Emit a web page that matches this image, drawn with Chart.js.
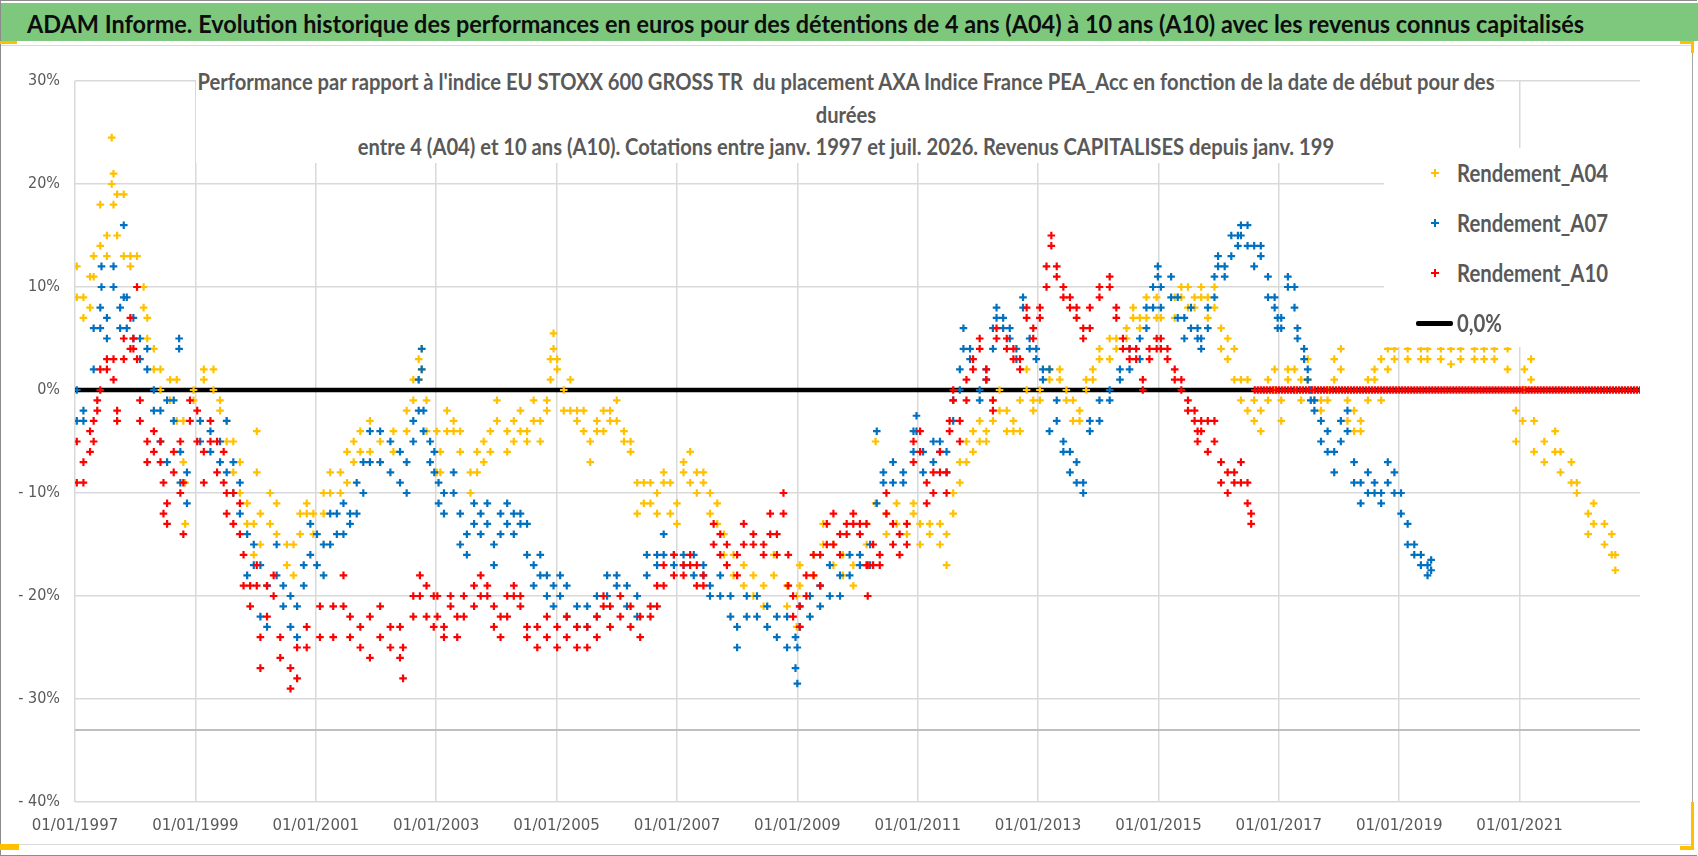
<!DOCTYPE html>
<html lang="fr">
<head>
<meta charset="utf-8">
<title>ADAM Informe - AXA Indice France PEA_Acc</title>
<script src="https://cdn.jsdelivr.net/npm/chart.js@4.4.1/dist/chart.umd.min.js"></script>
<style>
  html, body { margin: 0; padding: 0; background: #fff; }
  body { width: 1698px; height: 856px; position: relative; overflow: hidden; font-family: Lato, 'DejaVu Sans', sans-serif; }
  #frame { position: absolute; left: 0; top: 0; width: 1696px; height: 854px; border: 1px solid #8c8c8c; border-right: none; }
  #banner { position: absolute; left: 1px; top: 3px; width: 1697px; height: 38px; background: #7ec87e; overflow: hidden; }
  #banner span { position: absolute; left: 26px; top: 0; line-height: 40px; font-size: 25px; font-weight: bold;
                 color: #0d0d0d; white-space: nowrap; transform-origin: left center; }
  #chartBox { position: absolute; left: 1px; top: 45px; width: 1691px; height: 798px;
              border-top: 1px solid #d9d9d9; border-bottom: 1px solid #d9d9d9; border-right: 1px solid #a6a6a6; }
  #perfChart { position: absolute; left: 0; top: 46px; }
  #subtitle { position: absolute; left: 196px; top: 65px; width: 1300px; height: 98px; background: #fff; }
  #subtitle div { position: relative; height: 32.5px; }
  #subtitle span { position: absolute; left: 50%; top: 0; line-height: 32.5px; white-space: pre;
                   color: #595959; font-weight: bold; font-size: 23px; transform-origin: center center; }
  #legend { position: absolute; left: 1384px; top: 148px; width: 306px; height: 199px; background: #fff; }
  #legend .item { position: absolute; left: 0; width: 306px; height: 50px; }
  #legend .lbl { position: absolute; left: 73px; top: 0; line-height: 50px; font-size: 24.5px; font-weight: bold;
                 color: #595959; white-space: nowrap; transform-origin: left center; }
  #legend .cross { position: absolute; left: 47px; top: 21px; width: 8px; height: 8px;
                   background: linear-gradient(currentColor, currentColor) center / 8px 2px no-repeat,
                               linear-gradient(currentColor, currentColor) center / 2px 8px no-repeat; }
  #legend .bar { position: absolute; left: 32px; top: 23px; width: 37px; height: 5px; border-radius: 2px; }
  .mark { position: absolute; background: #ffc000; }
</style>
</head>
<body>
<div id="frame"></div>
<div id="banner"><span id="mainTitle">ADAM Informe. Evolution historique des performances en euros pour des détentions de 4 ans (A04) à 10 ans (A10) avec les revenus connus capitalisés</span></div>
<div id="chartBox"></div>
<canvas id="perfChart" width="1698" height="804"></canvas>
<div id="subtitle">
  <div><span>Performance par rapport à l'indice EU STOXX 600 GROSS TR  du placement AXA Indice France PEA_Acc en fonction de la date de début pour des</span></div>
  <div><span>durées</span></div>
  <div><span>entre 4 (A04) et 10 ans (A10). Cotations entre janv. 1997 et juil. 2026. Revenus CAPITALISES depuis janv. 199</span></div>
</div>
<div id="legend"></div>
<div class="mark" style="left:0;top:41px;width:17px;height:3px"></div>
<div class="mark" style="left:1680px;top:41px;width:14px;height:3px"></div>
<div class="mark" style="left:1691px;top:41px;width:3px;height:12px"></div>
<div class="mark" style="left:1691px;top:802px;width:3px;height:48px"></div>
<div class="mark" style="left:1680px;top:846px;width:14px;height:4px"></div>
<div class="mark" style="left:0;top:844px;width:19px;height:6px"></div>

<script>
// date de début (année décimale), rendement haut, rendement bas (en %)
const rendementA04 = [
  [1997.03,12,9],[1997.14,9,7],[1997.25,11,8],[1997.31,13,11],[1997.42,18,14],[1997.53,15,13],[1997.61,24.5,20],
  [1997.64,21,18],[1997.70,19,15],[1997.81,19,13],[1997.92,13,12],[1998.03,13,10],[1998.14,10,8],[1998.20,7,5],
  [1998.31,4,2],[1998.42,2,0],[1998.58,1,-1],[1998.69,1,-3],[1998.80,-3,-7],[1998.83,-9,-13],[1998.97,0,-1],
  [1999.14,2,1],[1999.30,2,0],[1999.41,-1,-2],[1999.52,-3,-5],[1999.63,-5,-8],[1999.74,-7,-10],[1999.86,-11,-13],
  [1999.97,-13,-16],[2000.02,-4,-8],[2000.08,-12,-15],[2000.24,-10,-13],[2000.35,-11,-14],[2000.52,-15,-17],
  [2000.63,-15,-18],[2000.74,-12,-14],[2000.85,-11,-12],[2000.96,-12,-14],[2001.13,-10,-12],[2001.24,-8,-10],
  [2001.41,-8,-10],[2001.52,-6,-9],[2001.63,-5,-7],[2001.74,-4,-6],[2001.90,-3,-6],[2002.07,-5,-7],[2002.29,-4,-6],
  [2002.51,-2,-4],[2002.62,1,-1],[2002.71,3,1],[2002.76,4,2],[2002.84,-1,-4],[2003.01,-4,-8],[2003.07,-6,-8],
  [2003.18,-2,-4],[2003.29,-3,-4],[2003.40,-4,-6],[2003.57,-8,-10],[2003.68,-6,-8],[2003.79,-5,-7],[2003.90,-4,-6],
  [2004.01,-1,-3],[2004.18,-4,-6],[2004.29,-3,-5],[2004.40,-2,-4],[2004.51,-4,-5],[2004.62,-1,-3],[2004.73,-3,-5],
  [2004.84,-1,-2],[2004.90,3,1],[2004.95,5.5,4],[2005.01,3,2],[2005.12,0,-2],[2005.23,1,-2],[2005.34,-2,-3],
  [2005.45,-2,-4],[2005.56,-5,-7],[2005.67,-3,-4],[2005.78,-2,-4],[2005.89,-2,-3],[2006.00,-1,-3],[2006.12,-4,-5],
  [2006.23,-5,-6],[2006.34,-9,-12],[2006.45,-9,-11],[2006.56,-9,-11],[2006.67,-10,-12],[2006.78,-8,-9],
  [2006.89,-9,-12],[2007.00,-11,-13],[2007.11,-7,-8],[2007.22,-6,-9],[2007.33,-8,-10],[2007.44,-8,-9],
  [2007.55,-10,-12],[2007.67,-11,-13],[2007.78,-14,-16],[2007.94,-16,-18],[2008.11,-17,-19],[2008.27,-18,-20],
  [2008.44,-19,-21],[2008.61,-16,-18],[2008.83,-19,-21],[2008.99,-20,-23],[2009.04,-17,-19],[2009.27,-16,-18],
  [2009.43,-13,-15],[2009.60,-15,-17],[2009.76,-16,-18],[2009.93,-17,-19],[2010.15,-13,-15],[2010.30,-5,-11],
  [2010.48,-12,-14],[2010.65,-11,-13],[2010.82,-13,-14],[2010.93,-11,-12],[2011.04,-13,-15],[2011.20,-13,-14],
  [2011.37,-13,-15],[2011.48,-14,-17],[2011.59,-10,-12],[2011.70,-7,-9],[2011.81,-5,-7],[2011.92,-4,-6],
  [2012.03,-3,-5],[2012.14,-4,-5],[2012.25,-1,-3],[2012.36,0,-2],[2012.48,-2,-4],[2012.59,-3,-4],[2012.70,-1,-4],
  [2012.81,2,0],[2012.92,-1,-2],[2013.03,0,-1],[2013.19,2,1],[2013.36,2,1],[2013.47,0,-1],[2013.58,-1,-3],
  [2013.69,-2,-3],[2013.80,1,0],[2013.91,2,1],[2014.02,4,3],[2014.19,5,3],[2014.30,5,4],[2014.47,6,5],
  [2014.58,8,7],[2014.69,7,6],[2014.80,9,7],[2014.97,9,7],[2015.04,7,4],[2015.27,9,7],[2015.38,10,9],
  [2015.49,10,8],[2015.60,9,8],[2015.71,10,9],[2015.82,9,7],[2015.93,10,8],[2016.04,6,4],[2016.15,5,3],
  [2016.26,4,1],[2016.37,1,-1],[2016.48,1,-2],[2016.59,-1,-3],[2016.70,-2,-4],[2016.82,1,-1],[2016.93,2,0],
  [2017.04,-1,-3],[2017.15,2,1],[2017.26,2,0],[2017.37,1,-1],[2017.48,3,1],[2017.59,0,-1],[2017.70,-1,-2],
  [2017.81,0,-1],[2017.92,3,1],[2018.03,4,2],[2018.14,-1,-3],[2018.25,-2,-4],[2018.36,-3,-4],[2018.48,1,-1],
  [2018.59,2,1],[2018.70,3,-1],[2018.81,4,2],[2018.92,4,3],[2019.14,4,3],[2019.36,4,3],[2019.47,4,3],
  [2019.69,4,3],[2019.86,4,2.5],[2020.02,4,3],[2020.25,4,3],[2020.41,4,3],[2020.58,4,3],[2020.80,4,2],
  [2020.94,-2,-5],[2021.05,0,-3],[2021.08,2,0],[2021.19,3,1],[2021.24,-3,-6],[2021.41,-5,-7],[2021.59,-4,-6],
  [2021.68,-6,-8],[2021.86,-7,-9],[2021.95,-9,-10],[2022.14,-12,-14],[2022.23,-11,-13],[2022.41,-13,-15],
  [2022.53,-14,-16],[2022.59,-16,-17.5]
];

const rendementA07 = [
  [1997.03,0,-3],[1997.14,-2,-3],[1997.31,6,2],[1997.42,8,6],[1997.44,12,10],[1997.53,7,5],[1997.64,12,10],
  [1997.75,8,6],[1997.81,16,9],[1997.86,9,6],[1997.97,7,5],[1998.08,5,3],[1998.20,4,2],[1998.31,0,-2],
  [1998.42,-2,-5],[1998.53,-1,-7],[1998.64,-1,-3],[1998.73,5,4],[1998.75,-6,-9],[1998.86,-8,-11],[1999.08,-3,-5],
  [1999.25,-4,-6],[1999.41,-5,-7],[1999.52,-3,-8],[1999.63,-7,-10],[1999.74,-9,-12],[1999.86,-14,-18],
  [1999.97,-15,-17],[2000.08,-17,-22],[2000.19,-19,-23],[2000.35,-15,-18],[2000.46,-19,-21],[2000.58,-20,-23],
  [2000.69,-21,-24],[2000.80,-17,-19],[2000.91,-13,-16],[2001.02,-14,-17],[2001.13,-15,-18],[2001.24,-12,-15],
  [2001.35,-12,-14],[2001.46,-11,-14],[2001.57,-12,-13],[2001.68,-9,-12],[2001.79,-7,-10],[2001.90,-4,-7],
  [2002.07,-4,-7],[2002.24,-5,-8],[2002.40,-6,-9],[2002.51,-7,-10],[2002.62,-3,-5],[2002.71,1,-2],[2002.76,4,2],
  [2002.79,-2,-4],[2002.90,-5,-7],[2002.97,-6,-8],[2003.04,-9,-11],[2003.13,-10,-12],[2003.29,-8,-10],
  [2003.40,-12,-15],[2003.51,-14,-16],[2003.63,-11,-13],[2003.74,-12,-14],[2003.85,-11,-13],[2003.96,-15,-17],
  [2004.07,-12,-14],[2004.18,-11,-13],[2004.29,-12,-14],[2004.40,-12,-13],[2004.51,-13,-16],[2004.62,-17,-19],
  [2004.73,-16,-18],[2004.84,-18,-20],[2004.95,-19,-21],[2005.06,-18,-20],[2005.17,-19,-22],[2005.34,-21,-23],
  [2005.51,-21,-23],[2005.67,-20,-22],[2005.84,-18,-20],[2006.00,-18,-19],[2006.17,-19,-21],[2006.34,-20,-22],
  [2006.50,-16,-18],[2006.67,-16,-17],[2006.78,-14,-16],[2006.95,-16,-17],[2007.11,-16,-17],[2007.28,-16,-18],
  [2007.44,-17,-18],[2007.55,-19,-20],[2007.72,-18,-20],[2007.89,-20,-22],[2008.00,-23,-25],[2008.16,-20,-22],
  [2008.33,-20,-22],[2008.50,-21,-23],[2008.66,-22,-24],[2008.83,-22,-25],[2008.97,-24,-27],[2009.00,-25,-28.5],
  [2009.04,-21,-23],[2009.21,-20,-22],[2009.38,-19,-21],[2009.54,-17,-20],[2009.71,-18,-20],[2009.87,-16,-18],
  [2010.04,-16,-17],[2010.21,-15,-17],[2010.32,-4,-11],[2010.43,-8,-9],[2010.59,-7,-9],[2010.76,-8,-9],
  [2010.93,-4,-6],[2010.98,-2.5,-4],[2011.09,-6,-8],[2011.26,-5,-7],[2011.37,-5,-6],[2011.48,-6,-8],
  [2011.59,-1,-3],[2011.70,2,0],[2011.76,6,4],[2011.87,4,3],[2012.03,0,-1],[2012.14,2,1],[2012.25,6,4],
  [2012.31,8,7],[2012.42,7,6],[2012.53,6,5],[2012.64,4,3],[2012.75,9,8],[2012.86,5,4],[2012.97,4,3],
  [2013.08,2,1],[2013.19,2,-4],[2013.31,-1,-3],[2013.42,-5,-6],[2013.53,-6,-8],[2013.64,-7,-9],[2013.75,-9,-10],
  [2013.86,-3,-4],[2014.02,-1,-3],[2014.19,0,-1],[2014.36,2,1],[2014.52,4,2],[2014.69,5,3],[2014.80,8,6],
  [2014.91,10,8],[2014.99,12,11],[2015.04,10,8],[2015.21,11,9],[2015.32,9,7],[2015.43,7,5],[2015.54,8,6],
  [2015.65,6,5],[2015.71,5,4],[2015.82,8,6],[2015.93,11,9],[2015.99,13,12],[2016.10,12,11],[2016.21,15,13],
  [2016.32,15,14],[2016.37,16,15],[2016.48,16,14],[2016.59,14,12],[2016.70,14,13],[2016.82,11,9],[2016.93,9,8],
  [2016.98,7,6],[2017.04,7,6],[2017.15,11,10],[2017.26,10,8],[2017.31,6,5],[2017.42,4,3],[2017.48,2,1],
  [2017.53,0,-1],[2017.59,-1,-2],[2017.70,-3,-5],[2017.81,-4,-6],[2017.92,-6,-8],[2018.03,-3,-5],[2018.14,-2,-4],
  [2018.25,-7,-9],[2018.36,-9,-11],[2018.48,-8,-10],[2018.59,-9,-10],[2018.70,-10,-11],[2018.81,-7,-9],
  [2018.92,-8,-10],[2019.03,-10,-12],[2019.14,-13,-15],[2019.25,-15,-16],[2019.36,-16,-17],[2019.47,-17,-18],
  [2019.53,-16.5,-17.5]
];

const rendementA10 = [
  [1997.03,-5,-9],[1997.14,-7,-9],[1997.25,-4,-6],[1997.31,-3,-5],[1997.37,-1,-2],[1997.42,2,0],[1997.53,3,2],
  [1997.64,3,1],[1997.70,-2,-3],[1997.81,5,3],[1997.92,7,4],[1997.97,5,4],[1998.03,10,3],[1998.08,-1,-3],
  [1998.20,-5,-7],[1998.31,-4,-6],[1998.42,-5,-7],[1998.47,-9,-12],[1998.53,-11,-13],[1998.64,-6,-8],
  [1998.75,-5,-10],[1998.80,-9,-14],[1998.91,-1,-3],[1999.03,-2,-5],[1999.14,-6,-9],[1999.25,-3,-5],
  [1999.36,-5,-8],[1999.47,-6,-9],[1999.52,-10,-12],[1999.63,-10,-13],[1999.74,-11,-14],[1999.80,-16,-19],
  [1999.91,-19,-21],[2000.02,-17,-19],[2000.08,-24,-27],[2000.19,-19,-22],[2000.30,-18,-20],[2000.41,-24,-26],
  [2000.58,-27,-29],[2000.69,-25,-28],[2000.85,-23,-25],[2001.07,-21,-24],[2001.29,-21,-24],[2001.46,-18,-21],
  [2001.57,-22,-24],[2001.74,-23,-25],[2001.90,-22,-26],[2002.07,-21,-24],[2002.24,-23,-25],[2002.40,-23,-26],
  [2002.45,-25,-28],[2002.62,-20,-22],[2002.73,-18,-20],[2002.84,-19,-22],[2002.96,-20,-23],[2003.02,-20,-22],
  [2003.13,-23,-24],[2003.24,-20,-21],[2003.35,-22,-24],[2003.46,-20,-22],[2003.63,-19,-21],[2003.74,-18,-20],
  [2003.85,-19,-20],[2003.96,-21,-23],[2004.07,-22,-24],[2004.18,-20,-22],[2004.29,-19,-20],[2004.40,-20,-21],
  [2004.51,-23,-24],[2004.68,-23,-25],[2004.84,-22,-24],[2005.01,-23,-25],[2005.17,-22,-24],[2005.34,-23,-25],
  [2005.51,-23,-25],[2005.67,-22,-24],[2005.78,-20,-21],[2005.89,-21,-23],[2006.06,-20,-22],[2006.23,-21,-23],
  [2006.39,-22,-24],[2006.56,-21,-22],[2006.67,-19,-21],[2006.78,-17,-19],[2006.95,-16,-18],[2007.11,-17,-18],
  [2007.22,-16,-17],[2007.33,-17,-19],[2007.44,-18,-19],[2007.61,-13,-15],[2007.72,-14,-16],[2007.83,-15,-17],
  [2008.00,-16,-18],[2008.11,-13,-15],[2008.27,-14,-15],[2008.44,-15,-16],[2008.55,-12,-14],[2008.66,-14,-16],
  [2008.77,-10,-12],[2008.85,-16,-19],[2008.93,-20,-22],[2009.04,-21,-23],[2009.15,-18,-20],[2009.27,-16,-18],
  [2009.38,-16,-19],[2009.49,-13,-15],[2009.60,-12,-15],[2009.71,-14,-16],[2009.82,-13,-14],[2009.93,-12,-13],
  [2010.04,-13,-14],[2010.15,-13,-17],[2010.17,-17,-20],[2010.26,-15,-17],[2010.37,-16,-17],[2010.48,-10,-12],
  [2010.59,-13,-15],[2010.70,-14,-16],[2010.82,-13,-15],[2010.93,-5,-7],[2011.04,-4,-6],[2011.15,-9,-11],
  [2011.26,-8,-10],[2011.37,-6,-8],[2011.48,-8,-10],[2011.53,-3,-4],[2011.59,0,-1],[2011.70,-3,-5],
  [2011.81,1,-1],[2011.92,3,2],[2012.03,5,4],[2012.14,2,1],[2012.25,-1,-2],[2012.31,6,5],[2012.48,5,4],
  [2012.59,4,3],[2012.70,3,2],[2012.81,8,7],[2012.92,6,5],[2013.03,8,7],[2013.14,12,10],[2013.22,15,14],
  [2013.31,12,11],[2013.42,10,9],[2013.53,9,8],[2013.64,8,7],[2013.75,6,5],[2013.86,8,6],[2014.02,10,9],
  [2014.19,11,10],[2014.30,8,7],[2014.41,5,4],[2014.52,4,3],[2014.63,4,3],[2014.74,1,0],[2014.85,4,3],
  [2014.97,5,4],[2015.04,5,4],[2015.15,4,3],[2015.27,2,1],[2015.38,1,0],[2015.49,-1,-2],[2015.60,-2,-3],
  [2015.65,-4,-5],[2015.71,-3,-4],[2015.82,-3,-6],[2015.93,-3,-5],[2016.04,-7,-9],[2016.15,-8,-10],
  [2016.26,-8,-9],[2016.37,-7,-9],[2016.48,-9,-11],[2016.54,-12,-13]
];

// dates où le rendement A10 vaut exactement 0 (pas encore 10 ans de recul)
const flatA10Dates = [
  2016.60,2016.65,2016.70,2016.75,2016.80,2016.85,2016.90,2016.95,2017.00,2017.05,2017.10,2017.15,2017.20,2017.25,
  2017.30,2017.35,2017.40,2017.45,2017.50,2017.55,2017.60,2017.65,2017.70,2017.75,2017.80,2017.85,2017.90,2017.95,
  2018.00,2018.05,2018.10,2018.15,2018.20,2018.25,2018.30,2018.35,2018.40,2018.45,2018.50,2018.55,2018.60,2018.65,
  2018.70,2018.75,2018.80,2018.85,2018.90,2018.95,2019.00,2019.05,2019.10,2019.15,2019.20,2019.25,2019.30,2019.35,
  2019.40,2019.45,2019.50,2019.55,2019.60,2019.65,2019.70,2019.75,2019.80,2019.85,2019.90,2019.95,2020.00,2020.05,
  2020.10,2020.15,2020.20,2020.25,2020.30,2020.35,2020.40,2020.45,2020.50,2020.55,2020.60,2020.65,2020.70,2020.75,
  2020.80,2020.85,2020.90,2020.95,2021.00,2021.05,2021.10,2021.15,2021.20,2021.25,2021.30,2021.35,2021.40,2021.45,
  2021.50,2021.55,2021.60,2021.65,2021.70,2021.75,2021.80,2021.85,2021.90,2021.95,2022.00,2022.05,2022.10,2022.15,
  2022.20,2022.25,2022.30,2022.35,2022.40,2022.45,2022.50,2022.55,2022.60,2022.65,2022.70,2022.75,2022.80,2022.85,
  2022.90,2022.95,2023.00
];

const axisStart = 1997;
const axisEnd = 2023;
const axisCross = -33;   // l'axe horizontal croise l'axe vertical ici
const yMin = -40;
const yMax = 30;

const TICK_FONT = "'DejaVu Sans Condensed', 'DejaVu Sans', sans-serif";

function toPoints(rows) {
  const pts = [];
  rows.forEach(([x, hi, lo]) => {
    pts.push({ x: x, y: hi });
    if (lo !== hi) pts.push({ x: x, y: lo });
  });
  return pts;
}

function crossSet(label, rows, color, order) {
  return {
    label: label,
    data: rows,
    pointStyle: 'cross',
    pointRadius: 3.8,
    pointHoverRadius: 3.8,
    borderWidth: 2.2,
    borderColor: color,
    backgroundColor: color,
    order: order
  };
}

const datasets = [
  crossSet('Rendement_A04', toPoints(rendementA04), '#FFC000', 3),
  crossSet('Rendement_A07', toPoints(rendementA07), '#0070C0', 2),
  crossSet('Rendement_A10', toPoints(rendementA10).concat(flatA10Dates.map(d => ({ x: d, y: 0 }))), '#FF0000', 1),
  {
    label: '0,0%',
    data: [{ x: axisStart, y: 0 }, { x: axisEnd, y: 0 }],
    showLine: true, borderColor: '#000000', borderWidth: 4.5, pointRadius: 0, order: 4
  },
  {
    label: 'axe',
    inLegend: false,
    data: [{ x: axisStart, y: axisCross }, { x: axisEnd, y: axisCross }],
    showLine: true, borderColor: '#BFBFBF', borderWidth: 2, pointRadius: 0, order: 5
  }
];

const ctx = document.getElementById('perfChart').getContext('2d');

const perfChart = new Chart(ctx, {
  type: 'scatter',
  data: { datasets: datasets },
  options: {
    responsive: false,
    animation: false,
    events: [],
    layout: { padding: { top: 35, right: 58, bottom: 8, left: 0 } },
    plugins: {
      legend: { display: false },
      tooltip: { enabled: false }
    },
    scales: {
      x: {
        type: 'linear',
        min: axisStart,
        max: axisEnd,
        afterFit: s => { s.height = 40; },
        border: { display: false },
        grid: {
          drawTicks: false,
          lineWidth: 1.5,
          color: c => (c.tick && c.tick.value < axisEnd) ? '#D9D9D9' : 'rgba(0,0,0,0)'
        },
        ticks: {
          stepSize: 2,
          autoSkip: false,
          maxRotation: 0,
          padding: 14,
          color: '#595959',
          font: { family: TICK_FONT, size: 16.7 },
          callback: v => (Number.isInteger(v) && v < axisEnd) ? '01/01/' + v : ''
        }
      },
      y: {
        min: yMin,
        max: yMax,
        afterFit: s => { s.width = 75; },
        border: { display: false },
        grid: { drawTicks: false, lineWidth: 1.5, color: '#D9D9D9' },
        ticks: {
          stepSize: 10,
          padding: 15,
          color: '#595959',
          font: { family: TICK_FONT, size: 16 },
          callback: v => (v < 0 ? '- ' + Math.abs(v) : v) + '%'
        }
      }
    }
  }
});

// légende HTML construite à partir des séries du graphique
const legendBox = document.getElementById('legend');
perfChart.data.datasets.filter(d => d.inLegend !== false).forEach((d, i) => {
  const row = document.createElement('div');
  row.className = 'item';
  row.style.top = (i * 50) + 'px';
  const mk = document.createElement('span');
  if (d.showLine) {
    mk.className = 'bar';
    mk.style.background = d.borderColor;
  } else {
    mk.className = 'cross';
    mk.style.color = d.borderColor;
  }
  const lbl = document.createElement('span');
  lbl.className = 'lbl';
  lbl.textContent = d.label;
  row.appendChild(mk);
  row.appendChild(lbl);
  legendBox.appendChild(row);
});

// resserre les textes pour retrouver la largeur de la police étroite d'origine
function squeeze(els, refEl, targetWidth, prefix) {
  const f = targetWidth / refEl.getBoundingClientRect().width;
  els.forEach(el => { el.style.transform = prefix + 'scaleX(' + f + ')'; });
}
function fitTexts() {
  const title = document.getElementById('mainTitle');
  squeeze([title], title, 1557, '');
  const subs = Array.from(document.querySelectorAll('#subtitle span'));
  squeeze(subs, subs[0], 1297, 'translateX(-50%) ');
  const lbls = Array.from(document.querySelectorAll('#legend .lbl'));
  squeeze(lbls, lbls[0], 151, '');
}
fitTexts();
</script>
</body>
</html>
